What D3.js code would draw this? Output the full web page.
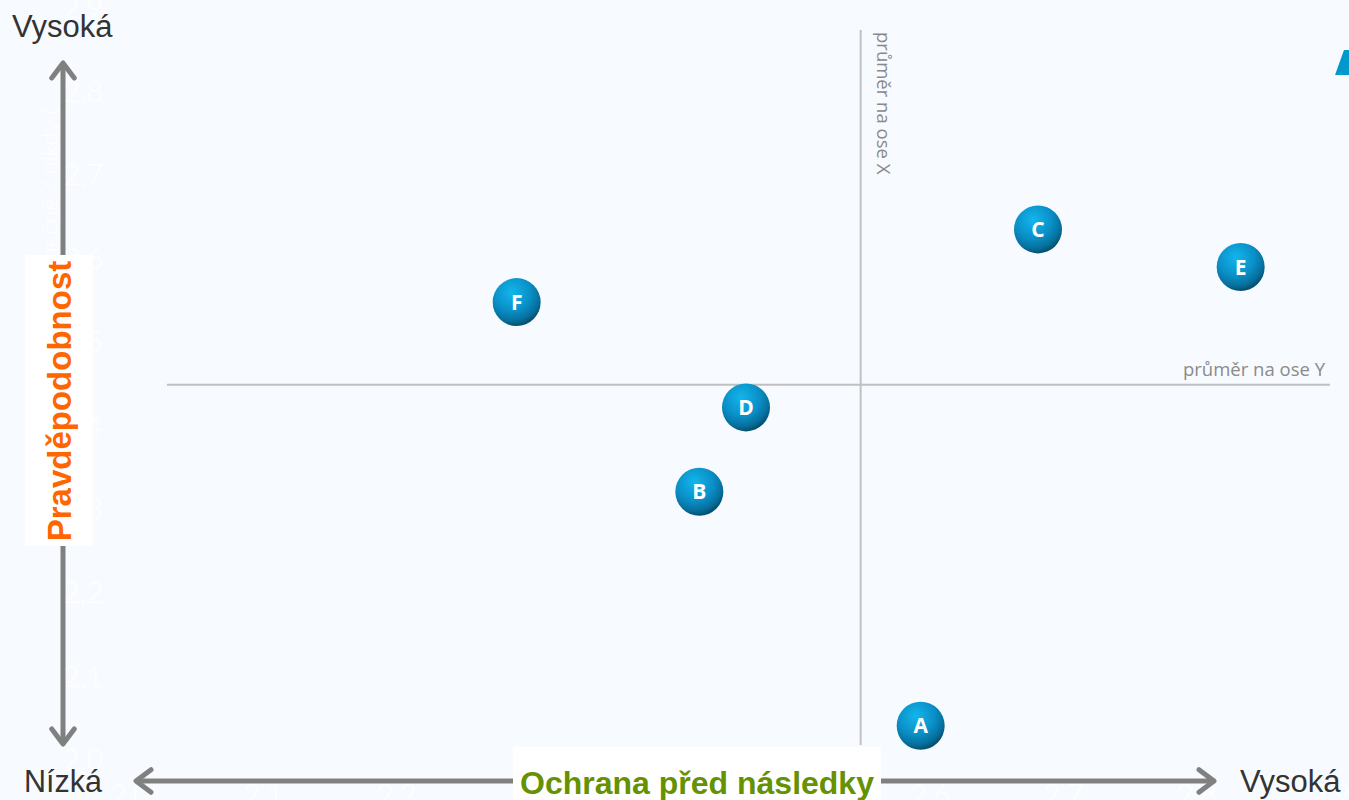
<!DOCTYPE html>
<html><head><meta charset="utf-8">
<script src="https://cdn.jsdelivr.net/npm/d3@7"></script>
<style>
html,body{margin:0;padding:0;background:#f7fbff;overflow:hidden;}
svg{display:block;}
</style></head>
<body>
<svg id="c" width="1349" height="800"></svg>
<script>
// ---- data ----
const labels = ["A","B","C","D","E","F"];
const xValues = [2.593, 2.427, 2.681, 2.462, 2.833, 2.290];
const yValues = [2.041, 2.321, 2.635, 2.422, 2.590, 2.548];
const avgX = 2.548;
const avgY = 2.449;
const xTicks = [2.0,2.1,2.2,2.3,2.4,2.5,2.6,2.7,2.8,2.9];
const yTicks = [2.0,2.1,2.2,2.3,2.4,2.5,2.6,2.7,2.8,2.9];

const svg = d3.select("#c");
const x = d3.scaleLinear().domain([2.0, 2.9]).range([130, 1330]);
const y = d3.scaleLinear().domain([2.0, 2.9]).range([760, 8]);
const fmt = v => d3.format(".1f")(v).replace(".", ",");

svg.append("rect").attr("width",1349).attr("height",800).attr("fill","#f7fbff");

// faint white tick labels
svg.append("g").selectAll("text").data(yTicks).join("text")
  .attr("x", 63).attr("y", d => y(d)).attr("dy","0.35em")
  .attr("fill","#ffffff").attr("font-family","Lato, 'Open Sans', sans-serif")
  .attr("font-weight",300).attr("font-size",29).text(fmt);
svg.append("g").selectAll("text").data(xTicks).join("text")
  .attr("x", d => x(d)).attr("y", 805).attr("text-anchor","middle")
  .attr("fill","#ffffff").attr("font-family","Lato, 'Open Sans', sans-serif")
  .attr("font-weight",300).attr("font-size",29).text(fmt);
// faint axis title
svg.append("text").attr("transform","translate(58,108) rotate(-90)")
  .attr("text-anchor","end").attr("fill","#ffffff")
  .attr("font-family","Lato, 'Open Sans', sans-serif").attr("font-weight",300)
  .attr("font-size",24).text("Pravděpodobnost: výjimečně / nikdy (");

// average lines
svg.append("line").attr("x1", x(avgX)).attr("x2", x(avgX)).attr("y1", 30).attr("y2", 745)
  .attr("stroke","#c0c0c0").attr("stroke-width",2);
svg.append("line").attr("x1", 167).attr("x2", 1330).attr("y1", y(avgY)).attr("y2", y(avgY))
  .attr("stroke","#c0c0c0").attr("stroke-width",2);
svg.append("text").attr("transform",`translate(${x(avgX)+16},32) rotate(90)`)
  .attr("fill","#8a8a8a").attr("font-family","'Source Sans Pro','Open Sans',sans-serif")
  .attr("font-size",18.5).text("průměr na ose X");
svg.append("text").attr("x",1325).attr("y", y(avgY)-9).attr("text-anchor","end")
  .attr("fill","#8a8a8a").attr("font-family","'Source Sans Pro','Open Sans',sans-serif")
  .attr("font-size",18.5).text("průměr na ose Y");

// arrows
const defs = svg.append("defs");
const arrowCol = "#808080";
function arrowHead(px, py, dx, dy){
  const L = 15;
  const nx = -dy, ny = dx;
  const p = d3.path();
  p.moveTo(px - dx*L + nx*L*0.75, py - dy*L + ny*L*0.75);
  p.lineTo(px, py);
  p.lineTo(px - dx*L - nx*L*0.75, py - dy*L - ny*L*0.75);
  svg.append("path").attr("d", p.toString()).attr("fill","none")
    .attr("stroke",arrowCol).attr("stroke-width",5).attr("stroke-linecap","round").attr("stroke-linejoin","round");
}
svg.append("line").attr("x1",63).attr("x2",63).attr("y1",65).attr("y2",742)
  .attr("stroke",arrowCol).attr("stroke-width",5);
arrowHead(63,63,0,-1); arrowHead(63,744,0,1);
svg.append("line").attr("x1",137).attr("x2",1213).attr("y1",781).attr("y2",781)
  .attr("stroke",arrowCol).attr("stroke-width",5);
arrowHead(136,781,-1,0); arrowHead(1214,781,1,0);

// end labels
const lblFont = "'Liberation Sans', Arial, sans-serif";
svg.append("text").attr("x",12).attr("y",37).attr("fill","#333").attr("font-family",lblFont).attr("font-size",31).text("Vysoká");
svg.append("text").attr("x",24).attr("y",792).attr("fill","#333").attr("font-family",lblFont).attr("font-size",30.5).text("Nízká");
svg.append("text").attr("x",1240).attr("y",792).attr("fill","#333").attr("font-family",lblFont).attr("font-size",31).text("Vysoká");

// axis titles with white boxes
svg.append("rect").attr("x",25).attr("y",255).attr("width",68).attr("height",291).attr("fill","#ffffff");
svg.append("text").attr("transform","translate(71,401) rotate(-90)").attr("text-anchor","middle")
  .attr("fill","#ff6600").attr("font-family",lblFont).attr("font-weight","bold").attr("font-size",33)
  .text("Pravděpodobnost");
svg.append("rect").attr("x",513).attr("y",747).attr("width",368).attr("height",53).attr("fill","#ffffff");
svg.append("text").attr("x",697).attr("y",794).attr("text-anchor","middle")
  .attr("fill","#669100").attr("font-family",lblFont).attr("font-weight","bold").attr("font-size",32)
  .text("Ochrana před následky");

// corner logo fragment
svg.append("path").attr("d","M1349,50 L1344,50 L1335,75 L1349,75 Z").attr("fill","#0099cc");

// point gradient
const g = defs.append("radialGradient").attr("id","ball").attr("cx","40%").attr("cy","30%").attr("r","70%");
g.append("stop").attr("offset","0%").attr("stop-color","#12b6ec");
g.append("stop").attr("offset","55%").attr("stop-color","#0a8fc7");
g.append("stop").attr("offset","85%").attr("stop-color","#066f9c");
g.append("stop").attr("offset","100%").attr("stop-color","#04506f");

const pts = labels.map((l,i)=>({l, x:xValues[i], y:yValues[i]}));
const pg = svg.append("g").selectAll("g").data(pts).join("g")
  .attr("transform", d => `translate(${x(d.x)},${y(d.y)})`);
pg.append("circle").attr("r",24).attr("fill","url(#ball)");
pg.append("text").attr("text-anchor","middle").attr("dy","0.36em")
  .attr("fill","#fff").attr("font-family","'Open Sans', 'Noto Sans', sans-serif").attr("font-weight","bold")
  .attr("font-size",21).text(d=>d.l);
</script>
</body></html>
